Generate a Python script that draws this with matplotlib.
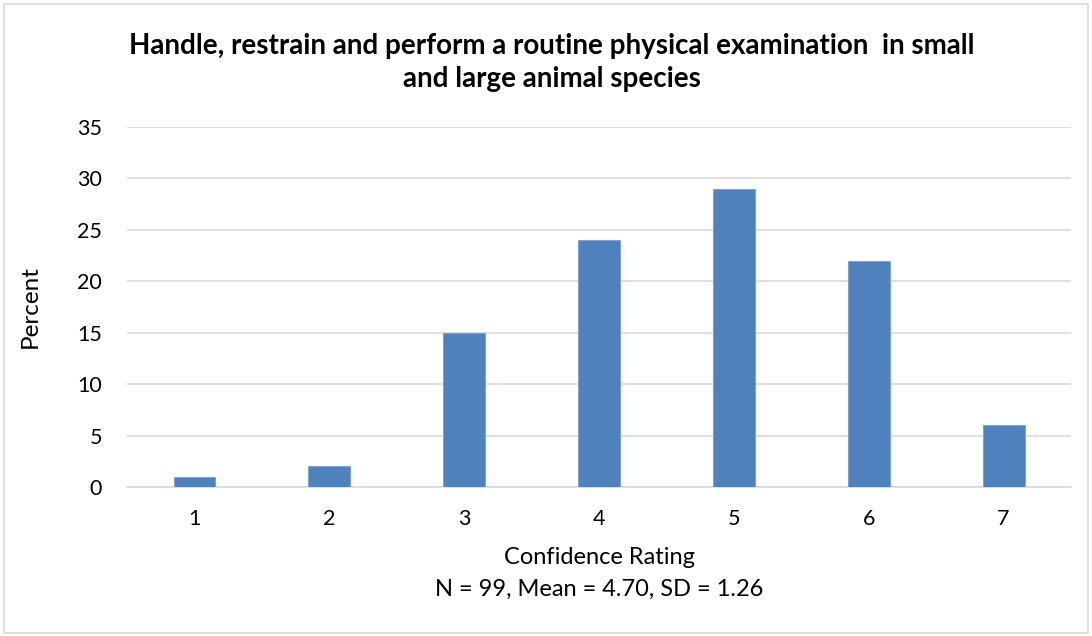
import matplotlib.pyplot as plt
from matplotlib.patches import Rectangle

ratings = [1, 2, 3, 4, 5, 6, 7]
percent = [1, 2, 15, 24, 29, 22, 6]
y_ticks = [0, 5, 10, 15, 20, 25, 30, 35]

title = "Handle, restrain and perform a routine physical examination  in small\nand large animal species"
x_label = "Confidence Rating\nN = 99, Mean = 4.70, SD = 1.26"

plt.rcParams['font.family'] = ['Lato', 'DejaVu Sans']

fig = plt.figure(figsize=(10.92, 6.36), dpi=100)
ax = fig.add_axes([0.1163, 0.2343, 0.8645, 0.566])

ax.bar(ratings, percent, width=0.31, color='#4f81bd', edgecolor='#7fa3d3', linewidth=0.8, zorder=3)
ax.set_xlim(0.5, 7.5)
ax.set_ylim(0, 35)
ax.set_yticks(y_ticks)
ax.set_xticks(ratings)
ax.tick_params(axis='both', length=0, labelsize=15.5, colors='#000000')
ax.tick_params(axis='x', pad=16)
ax.tick_params(axis='y', pad=18)
ax.grid(axis='y', color='#d9d9d9', linewidth=1.2, zorder=0)
for s in ['top', 'right', 'left']:
    ax.spines[s].set_visible(False)
ax.spines['bottom'].set_color('#d9d9d9')
ax.spines['bottom'].set_linewidth(1.2)

ax.set_xlabel(x_label, fontsize=17, labelpad=13, linespacing=1.65)
ax.set_ylabel('Percent', fontsize=17.5, labelpad=26)

fig.text(0.505, 0.948, title, ha='center', va='top', fontsize=20, fontweight='bold', linespacing=1.35)

fig.patches.append(Rectangle((0.004, 0.004), 0.992, 0.99, transform=fig.transFigure,
                             fill=False, edgecolor='#d9d9d9', linewidth=1.2))

fig.savefig('out.png', dpi=100)
